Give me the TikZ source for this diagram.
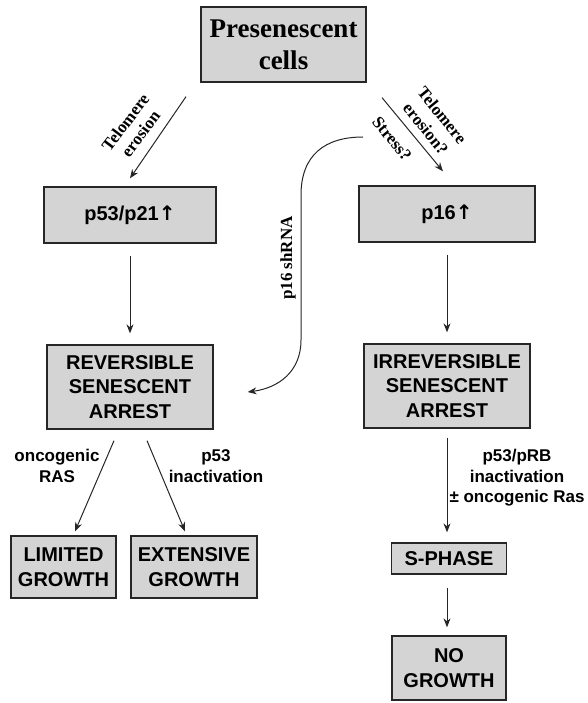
\documentclass[tikz,border=0pt]{standalone}
\usepackage{fontspec}
\setmainfont{Liberation Serif}
\setsansfont{Liberation Sans}
\newfontfamily\arrowfont{DejaVu Sans}
\usetikzlibrary{arrows.meta,calc}
\tikzset{
  box/.style={draw=black!85, line width=1.3pt, fill=black!17, inner sep=0pt, align=center,
    font=\sffamily\bfseries\fontsize{20}{24.5}\selectfont},
  lab/.style={align=center, inner sep=0pt, font=\sffamily\bfseries\fontsize{17}{20.5}\selectfont},
  slab/.style={align=center, inner sep=0pt, font=\rmfamily\bfseries\fontsize{17}{19}\selectfont},
  arr/.style={draw=black!85, line width=1pt, -{Stealth[length=9pt,width=7pt]}},
}
\begin{document}
\begin{tikzpicture}[x=1pt,y=-1pt]
\useasboundingbox (0,0) rectangle (587,703);
% boxes
\node[box, font=\rmfamily\bfseries\fontsize{27}{32}\selectfont, minimum width=165pt, minimum height=75pt] (pre) at (283.5,44.5) {Presenescent\\cells};
\node[box, minimum width=172pt, minimum height=56pt] (p53) at (130,215) {p53/p21{\arrowfont ↑}};
\node[box, minimum width=176pt, minimum height=56pt] (p16) at (447,214) {p16{\arrowfont ↑}};
\node[box, minimum width=166pt, minimum height=84pt] (rev) at (130,387) {REVERSIBLE\\SENESCENT\\ARREST};
\node[box, minimum width=166pt, minimum height=84pt] (irr) at (447,386) {IRREVERSIBLE\\SENESCENT\\ARREST};
\node[box, minimum width=105pt, minimum height=62pt] (lim) at (63.5,567) {LIMITED\\GROWTH};
\node[box, minimum width=126pt, minimum height=62pt] (ext) at (194,567) {EXTENSIVE\\GROWTH};
\node[box, minimum width=115pt, minimum height=31pt] (sph) at (449,558.5) {S-PHASE};
\node[box, minimum width=114pt, minimum height=64pt] (nog) at (449,668) {NO\\GROWTH};
% connectors
\draw[arr] ([xshift=-97.5pt,yshift=-14pt]pre.south) -- ([yshift=8pt]p53.north);
\draw[arr] ([xshift=98.5pt,yshift=-15pt]pre.south) -- ([xshift=-4pt,yshift=14pt]p16.north);
\draw[arr] ([yshift=-12pt]p53.south) -- ([yshift=11pt]rev.north);
\draw[arr] ([yshift=-12pt]p16.south) -- ([yshift=11pt]irr.north);
\draw[arr] ([xshift=-16pt,yshift=-11pt]rev.south) -- ([xshift=11.5pt,yshift=4pt]lim.north);
\draw[arr] ([xshift=17pt,yshift=-11pt]rev.south) -- ([xshift=-9pt,yshift=4pt]ext.north);
\draw[arr] ([yshift=-9pt]irr.south) -- ([yshift=10pt]sph.north -| irr.south);
\draw[arr] ([yshift=-13pt]sph.south -| irr.south) -- ([yshift=8pt]nog.north -| irr.south);
\coordinate (shs) at (363,137);
\draw[arr] (shs) .. controls (325,137) and (301,155) .. (301,195) -- (301,340)
  .. controls (301,372) and (278,388) .. ([xshift=34pt,yshift=-5pt]rev.east);
% labels
\node[slab, rotate=53] (tel1) at (133,128) {Telomere\\erosion};
\node[slab, rotate=-51, font=\rmfamily\bfseries\fontsize{17}{21}\selectfont] (tel2) at (434,122) {Telomere\\erosion?};
\node[slab, rotate=-51] (str) at (392,139) {Stress?};
\node[slab, rotate=90] (sh) at (288,258) {p16 shRNA};
\node[lab] (onc) at (57,466) {oncogenic\\RAS};
\node[lab] (p53i) at (216,466) {p53\\inactivation};
\node[lab] (prb) at (517,478) {p53/pRB\\inactivation\\± oncogenic Ras};
\end{tikzpicture}
\end{document}
